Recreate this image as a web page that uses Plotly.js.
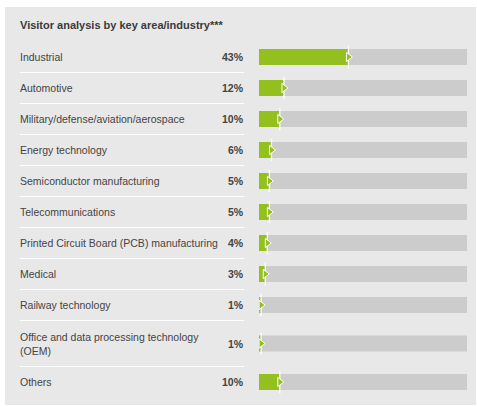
<!DOCTYPE html>
<html>
<head>
<meta charset="utf-8">
<script src="https://cdn.plot.ly/plotly-3.0.1.min.js"></script>
<style>html,body{margin:0;padding:0;background:#fff;}#chart{width:477px;height:406px;}</style>
</head>
<body>
<div id="chart"></div>
<script>
const chartTitle = "Visitor analysis by key area/industry***";
const categories = [
  "Industrial",
  "Automotive",
  "Military/defense/aviation/aerospace",
  "Energy technology",
  "Semiconductor manufacturing",
  "Telecommunications",
  "Printed Circuit Board (PCB) manufacturing",
  "Medical",
  "Railway technology",
  "Office and data processing technology<br>(OEM)",
  "Others"
];
const shares = [43, 12, 10, 6, 5, 5, 4, 3, 1, 1, 10];
const fullScale = 100;

const W = 477, H = 406;
const GREEN = "#93c01f", TRACK = "#cccccc", PANEL = "#e8e8e8";
const FONT = "'Liberation Sans', Arial, sans-serif";
const ROW_PX = 31, EXTRA_LINE = 15 / 31;
const FIRST_ROW_PX = 57;

// row layout derived from number of text lines per label
const heights = categories.map(c => 1 + (c.split("<br>").length - 1) * EXTRA_LINE);
const centers = [];
heights.forEach((h, i) => {
  centers.push(i === 0 ? 0 : centers[i - 1] + (heights[i - 1] + h) / 2);
});

const yTop = -FIRST_ROW_PX / ROW_PX;
const yBottom = (H - FIRST_ROW_PX) / ROW_PX;
const barW = 16 / ROW_PX;

const traces = [
  {type: "bar", orientation: "h", y: centers, x: categories.map(() => fullScale),
   width: barW, marker: {color: TRACK}, hoverinfo: "skip"},
  {type: "bar", orientation: "h", y: centers, x: shares,
   width: barW, marker: {color: GREEN}, hoverinfo: "skip"},
  {type: "scatter", mode: "markers", y: centers, x: shares,
   marker: {symbol: "line-ns", size: 16, line: {color: "#ffffff", width: 1.3}}, hoverinfo: "skip"},
  {type: "scatter", mode: "markers", y: centers, x: shares,
   marker: {symbol: "triangle-right", size: 8, color: GREEN, line: {color: "#ffffff", width: 1}}, hoverinfo: "skip"}
];

const px = v => v / W;
const py = v => 1 - v / H;

const shapes = [
  {type: "rect", xref: "paper", yref: "paper", x0: px(5), x1: px(476), y0: py(405), y1: py(7),
   fillcolor: PANEL, line: {width: 0}, layer: "below"}
];
for (let i = 0; i < categories.length - 1; i++) {
  const yb = centers[i] + heights[i] / 2;
  shapes.push({type: "line", xref: "paper", yref: "y", x0: px(20), x1: px(244), y0: yb, y1: yb,
    line: {color: "#ffffff", width: 1}});
}

const annotations = [
  {xref: "paper", yref: "paper", x: px(18), y: py(25), xanchor: "left", yanchor: "middle",
   text: "<b>" + chartTitle + "</b>", showarrow: false,
   font: {family: FONT, size: 11, color: "#3a3a3a"}}
];
categories.forEach((c, i) => {
  annotations.push({xref: "paper", yref: "y", x: px(18), y: centers[i], xanchor: "left", yanchor: "middle",
    align: "left", text: c, showarrow: false,
    font: {family: FONT, size: 10.5, color: "#444444"}});
  annotations.push({xref: "paper", yref: "y", x: px(246), y: centers[i], xanchor: "right", yanchor: "middle",
    align: "right", text: "<b>" + shares[i] + "%</b>", showarrow: false,
    font: {family: FONT, size: 10.5, color: "#444444"}});
});

const layout = {
  width: W, height: H,
  margin: {l: 0, r: 0, t: 0, b: 0, pad: 0},
  paper_bgcolor: "#ffffff", plot_bgcolor: "rgba(0,0,0,0)",
  showlegend: false, barmode: "overlay",
  xaxis: {domain: [px(259), px(467)], range: [0, fullScale], visible: false, fixedrange: true},
  yaxis: {domain: [0, 1], range: [yBottom, yTop], visible: false, fixedrange: true},
  shapes: shapes, annotations: annotations
};

Plotly.newPlot("chart", traces, layout, {staticPlot: true, displayModeBar: false});
</script>
</body>
</html>
